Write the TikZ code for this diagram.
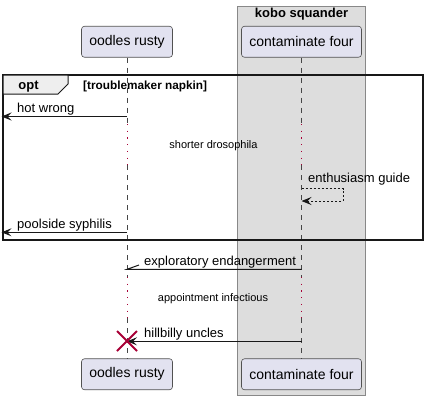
\documentclass[tikz,border=0pt]{standalone}
\usepackage{fontspec}
\setmainfont{Liberation Sans}
\usetikzlibrary{arrows.meta}
\definecolor{partfill}{HTML}{E2E2F0}
\definecolor{ink}{HTML}{181818}
\definecolor{boxfill}{HTML}{DDDDDD}
\definecolor{boxline}{HTML}{888888}
\definecolor{delayred}{HTML}{A80036}
\definecolor{tabfill}{HTML}{EEEEEE}
\begin{document}
\begin{tikzpicture}[x=1pt,y=-1pt,
  part/.style={draw=ink!75, fill=partfill, line width=0.6pt, rounded corners=3pt, minimum width=91pt, minimum height=31pt, inner sep=0pt, font=\fontsize{14}{16}\selectfont},
  life/.style={draw=ink!80, line width=0.6pt, dash pattern=on 5pt off 5pt},
  delayline/.style={draw=delayred, line width=0.8pt, dash pattern=on 1.2pt off 5.5pt},
  msg/.style={draw=ink, line width=1pt},
  tipend/.style={-{Stealth[length=10pt,width=8pt,inset=4pt]}},
  lbl/.style={anchor=base west, inner sep=0pt, font=\fontsize{13}{15}\selectfont},
  dlbl/.style={inner sep=0pt, font=\fontsize{11}{13}\selectfont},
  btitle/.style={inner sep=0pt, anchor=base, font=\fontsize{13}{15}\selectfont\bfseries},
]
\useasboundingbox (0,0) rectangle (427,400);
% group box
\draw[fill=boxfill, draw=boxline, line width=0.8pt] (237.5,6) rectangle (365.5,395);
\node[btitle] (boxtitle) at (301.5,17.3) {kobo squander};
% participants
\node[part] (p1t) at (127,41.75) {oodles rusty};
\node[part, minimum width=120pt] (p2t) at (301.5,41.75) {contaminate four};
\node[part] (p1b) at (127,374.25) {oodles rusty};
\node[part, minimum width=120pt] (p2b) at (301.5,374.25) {contaminate four};
% lifeline coordinates
\coordinate (a0) at (127,124); \coordinate (a1) at (127,165);
\coordinate (a2) at (127,277); \coordinate (a3) at (127,318);
\coordinate (b0) at (301.5,124); \coordinate (b1) at (301.5,165);
\coordinate (b2) at (301.5,277); \coordinate (b3) at (301.5,318);
\draw[life] (p1t.south) -- (a0);
\draw[delayline] (a0) -- (a1);
\draw[life] (a1) -- (a2);
\draw[delayline] (a2) -- (a3);
\draw[life] (a3) -- (p1b.north);
\draw[life] (p2t.south) -- (b0);
\draw[delayline] (b0) -- (b1);
\draw[life] (b1) -- (b2);
\draw[delayline] (b2) -- (b3);
\draw[life] (b3) -- (p2b.north);
% opt frame
\draw[draw=ink, line width=1.5pt] (3,75) rectangle (423,240);
\draw[draw=ink, fill=tabfill, line width=1pt] (3,75) -- (68,75) -- (68,84) -- (58,94) -- (3,94) -- cycle;
\node[btitle] (opttxt) at (28.5,89.3) {opt};
\node[inner sep=0pt, anchor=base west, font=\fontsize{11.8}{14}\selectfont\bfseries] (guard) at (83,89) {[troublemaker napkin]};
% messages
\coordinate (m1s) at (127,116.5); \coordinate (m1e) at (1.5,116.5);
\draw[msg, tipend] (m1s) -- (m1e);
\node[lbl] (m1l) at (17,112.3) {hot wrong};
\node[dlbl] (d1) at (213.5,146) {shorter drosophila};
\coordinate (s1) at (301.5,188.5); \coordinate (s2) at (301.5,201);
\draw[msg, dash pattern=on 2pt off 2pt, tipend] (s1) -- (343,188.5) -- (343,201) -- (s2);
\node[lbl] (sl) at (308,182.5) {enthusiasm guide};
\coordinate (m2s) at (127,232.3); \coordinate (m2e) at (1.5,232.3);
\draw[msg, tipend] (m2s) -- (m2e);
\node[lbl] (m2l) at (17,228) {poolside syphilis};
\coordinate (m3s) at (301.5,269.3); \coordinate (m3e) at (127,269.3);
\draw[msg] (m3s) -- (m3e) -- (139,265);
\node[lbl] (m3l) at (144,265) {exploratory endangerment};
\node[dlbl] (d2) at (213,299) {appointment infectious};
\coordinate (m4s) at (301.5,341.3); \coordinate (m4e) at (127,341.3);
\draw[msg, tipend] (m4s) -- (m4e);
\node[lbl] (m4l) at (144,337) {hillbilly uncles};
% destroy
\draw[draw=delayred, line width=2pt] (117,331) -- (137,351) (117,351) -- (137,331);
\end{tikzpicture}
\end{document}
